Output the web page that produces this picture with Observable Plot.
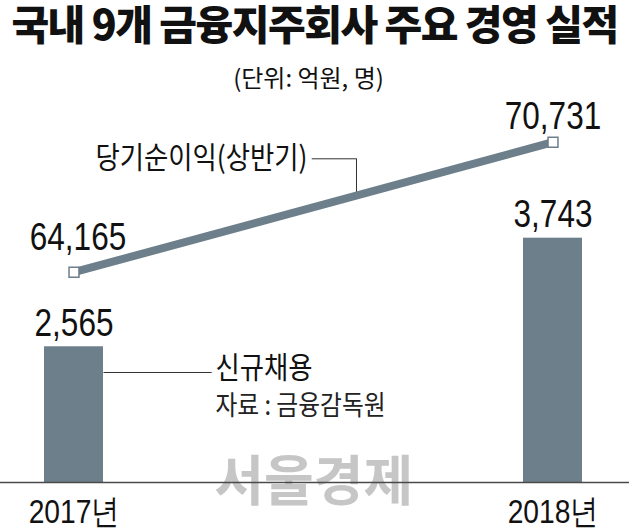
<!DOCTYPE html>
<html><head><meta charset="utf-8">
<script src="https://cdn.jsdelivr.net/npm/d3@7"></script>
<script src="https://cdn.jsdelivr.net/npm/@observablehq/plot@0.6"></script>
<style>
body{margin:0;background:#fff;}
#wrap{position:relative;width:629px;height:529px;overflow:hidden;background:#fff;}
#wrap svg{position:absolute;left:0;top:0;background:transparent !important;}
.ttl{position:absolute;text-align:center;font-family:'Noto Sans CJK KR',sans-serif;color:#111;white-space:nowrap;}
#title{left:0;width:629px;top:0;font-size:41px;line-height:44px;font-weight:900;letter-spacing:-1.5px;}
#sub{left:-6px;width:629px;top:62px;font-size:24px;line-height:30px;}
</style></head><body>
<div id="wrap">
  <div class="ttl" id="title">국내 9개 금융지주회사 주요 경영 실적</div>
  <div class="ttl" id="sub">(단위: 억원, 명)</div>
</div>
<script>
// ---- data ----
const years = ["2017년", "2018년"];
const hires = [2565, 3743];            // 신규채용 (명)
const hireLabels = ["2,565", "3,743"];
const profits = [64165, 70731];        // 당기순이익(상반기) (억원)
const profitLabels = ["64,165", "70,731"];
const seriesNames = ["신규채용", "당기순이익(상반기)"];
const sourceNote = "자료 : 금융감독원";
const watermark = "서울경제";

const hireRows = years.map((year, i) => ({year, value: hires[i], label: hireLabels[i]}));
const profitRows = years.map((year, i) => ({year, value: profits[i], label: profitLabels[i]}));

// ---- layout ----
const W = 629, H = 529;
const margins = {marginTop: 0, marginRight: 46.6, marginBottom: 47, marginLeft: 44};
const xScale = {type: "band", domain: years, paddingInner: 0.876, paddingOuter: 0, align: 0.5};
const hireDomain = [1093, 6321];
const profitDomain = [53543, 77888];
const gray = "#6c7f8b";
const numFont = "'Liberation Sans Narrow','Arial Narrow','Liberation Sans',sans-serif";
const korFont = "'Noto Sans CJK KR',sans-serif";
const wmFont = "'Noto Sans CJK KR','Noto Sans',sans-serif";
const condenseBy = {[numFont]: 0.83, [korFont]: 0.88};

const barPlot = Plot.plot({
  width: W, height: H, ...margins,
  style: {background: "transparent"},
  x: {...xScale},
  y: {domain: hireDomain, clamp: true, axis: null},
  marks: [
    Plot.text([watermark], {frameAnchor: "bottom", text: d => d, dy: 1.5, lineAnchor: "middle",
      fontSize: 54, fontWeight: 700, fill: "#c6c6c6", fontFamily: wmFont}),
    Plot.barY(hireRows, {x: "year", y: "value", fill: gray}),
    Plot.ruleY([hireDomain[0]], {stroke: "#4a4a4a", strokeWidth: 1.5, insetLeft: -44, insetRight: -47}),
    Plot.axisX({tickSize: 0, tickPadding: 16, fontSize: 34, fontFamily: numFont, label: null, fill: "#111"}),
    Plot.text(hireRows, {x: "year", y: "value", text: "label", dy: -11, lineAnchor: "bottom",
      fontSize: 38, fontFamily: numFont, fill: "#111"}),
    Plot.ruleY(hireRows.slice(0, 1), {y: "value", dy: 25.7, insetLeft: 59.5, insetRight: 370.7,
      stroke: "#333", strokeWidth: 1}),
    Plot.text(hireRows.slice(0, 1), {x: "year", y: "value", text: () => seriesNames[0], dx: 141.4, dy: 22,
      textAnchor: "start", lineAnchor: "middle", fontSize: 30, fontFamily: korFont, fill: "#111"}),
    Plot.text(hireRows.slice(0, 1), {x: "year", y: "value", text: () => sourceNote, dx: 141.4, dy: 59.5,
      textAnchor: "start", lineAnchor: "middle", fontSize: 27, fontFamily: korFont, fill: "#222"})
  ]
});

const linePlot = Plot.plot({
  width: W, height: H, ...margins,
  style: {background: "transparent"},
  x: {...xScale, axis: null},
  y: {domain: profitDomain, axis: null},
  marks: [
    Plot.ruleY(profitRows.slice(1), {y: "value", dy: 16.6, insetLeft: 267.7, insetRight: 226.4,
      stroke: "#333", strokeWidth: 1}),
    Plot.ruleX(profitRows.slice(1), {x: "year", dx: -196.5, insetTop: 158.3, insetBottom: 288,
      stroke: "#333", strokeWidth: 1}),
    Plot.line(profitRows, {x: "year", y: "value", stroke: gray, strokeWidth: 8}),
    Plot.dot(profitRows, {x: "year", y: "value", symbol: "square", r: 5.6, fill: "white",
      stroke: gray, strokeWidth: 1.5}),
    Plot.text(profitRows.slice(0, 1), {x: "year", y: "value", text: "label", dy: -22, dx: 4,
      lineAnchor: "bottom", fontSize: 38, fontFamily: numFont, fill: "#111"}),
    Plot.text(profitRows.slice(1), {x: "year", y: "value", text: "label", dy: -13.5,
      lineAnchor: "bottom", fontSize: 38, fontFamily: numFont, fill: "#111"}),
    Plot.text(profitRows.slice(1), {x: "year", y: "value", text: () => seriesNames[1], dx: -245.5, dy: 16.6,
      textAnchor: "end", lineAnchor: "middle", fontSize: 30, fontFamily: korFont, fill: "#111"})
  ]
});

// narrow the type horizontally, as in the condensed newspaper fonts of the reference
function condense(svg) {
  svg.querySelectorAll("g[font-family]").forEach(g => {
    const sx = condenseBy[g.getAttribute("font-family")];
    if (!sx) return;
    g.querySelectorAll("text").forEach(t => {
      const tr = t.getAttribute("transform") || "";
      t.setAttribute("transform", `${tr} scale(${sx},1)`);
    });
  });
}
condense(barPlot);
condense(linePlot);

const wrap = document.getElementById("wrap");
wrap.insertBefore(barPlot, wrap.firstChild);
wrap.appendChild(linePlot);
</script>
</body></html>
